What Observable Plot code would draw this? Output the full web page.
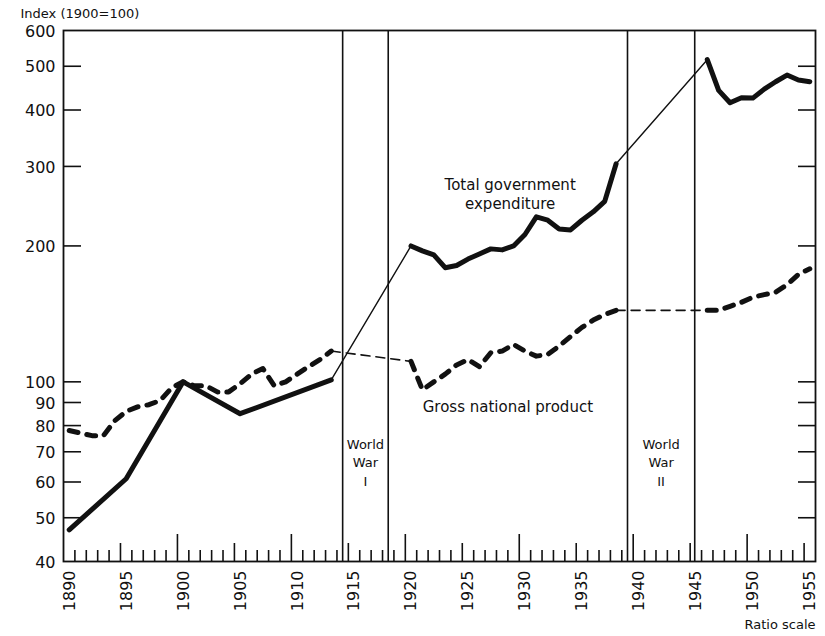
<!DOCTYPE html>
<html>
<head>
<meta charset="utf-8">
<script src="https://cdn.jsdelivr.net/npm/d3@7"></script>
<script src="https://cdn.jsdelivr.net/npm/@observablehq/plot@0.6"></script>
<style>
  html, body { margin: 0; padding: 0; background: #fff; }
</style>
</head>
<body>
<div id="chart"></div>
<script>
// ---- Data (index, 1900 = 100) ----
// Total government expenditure: three plotted periods
const govYearsA = [1890, 1895, 1900, 1905, 1913];
const govValuesA = [47, 61, 100, 85, 101];
const govYearsB = [1920, 1921, 1922, 1923, 1924, 1925, 1926, 1927, 1928, 1929,
                   1930, 1931, 1932, 1933, 1934, 1935, 1936, 1937, 1938];
const govValuesB = [200, 195, 191, 179, 181, 187, 192, 197, 196, 200,
                    212, 232, 228, 218, 217, 228, 238, 251, 304];
const govYearsC = [1946, 1947, 1948, 1949, 1950, 1951, 1952, 1953, 1954, 1955];
const govValuesC = [517, 442, 415, 426, 425, 445, 462, 478, 466, 462];

// Gross national product: three plotted periods
const gnpYearsA = [1890, 1891, 1892, 1893, 1894, 1895, 1896, 1897, 1898, 1899,
                   1900, 1901, 1902, 1903, 1904, 1905, 1906, 1907, 1908, 1909,
                   1910, 1911, 1912, 1913];
const gnpValuesA = [78, 77, 76, 76, 82, 86, 88, 89, 91, 97,
                    100, 98, 98, 95, 95, 99, 104, 107, 98, 100,
                    104, 108, 112, 117];
const gnpYearsB = [1920, 1921, 1922, 1923, 1924, 1925, 1926, 1927, 1928, 1929,
                   1930, 1931, 1932, 1933, 1934, 1935, 1936, 1937, 1938];
const gnpValuesB = [111, 96, 100, 104, 109, 112, 108, 116, 117, 121,
                    117, 114, 115, 120, 126, 132, 137, 141, 144];
const gnpYearsC = [1946, 1947, 1948, 1949, 1950, 1951, 1952, 1953, 1954, 1955];
const gnpValuesC = [144, 144, 147, 150, 154, 156, 158, 164, 173, 178];

// War periods (boundaries)
const warBounds = [1914.5, 1918.5, 1939.5, 1945.4];
const warLabels = ["World\nWar\nI", "World\nWar\nII"];

// Axis ticks and labels
const yTicks = [40, 50, 60, 70, 80, 90, 100, 200, 300, 400, 500, 600];
const xLabelYears = [1890, 1895, 1900, 1905, 1910, 1915, 1920, 1925, 1930, 1935, 1940, 1945, 1950, 1955];
const xTickYears = [1891,1892,1893,1894,1895,1896,1897,1898,1899,1900,1901,1902,1903,1904,1905,
  1906,1907,1908,1909,1910,1911,1912,1913,1914,1915,1916,1917,1918,1919,1920,1921,1922,1923,1924,1925,
  1926,1927,1928,1929,1930,1931,1932,1933,1934,1935,1936,1937,1938,1939,1940,1941,1942,1943,1944,1945,
  1946,1947,1948,1949,1950,1951,1952,1953,1954,1955];

const yAxisTitle = "Index (1900=100)";
const scaleNote = "Ratio scale";
const govLabel = "Total government\nexpenditure";
const gnpLabel = "Gross national product";

// ---- Layout ----
const W = 825, H = 636;
const mL = 63, mR = 10, mT = 30, mB = 75;
const xDomain = [1890, 1956];
const yDomain = [40, 600];
const plotW = W - mL - mR, plotH = H - mT - mB;
const pxPerYear = plotW / (xDomain[1] - xDomain[0]);
const yUp = px => yDomain[0] * Math.pow(yDomain[1] / yDomain[0], px / plotH);
const yearSpan = px => px / pxPerYear;

// ---- Build tables ----
const rows = (years, values, seg) => years.map((y, i) => ({year: y, value: values[i], seg}));
const govParts = [rows(govYearsA, govValuesA, "a"), rows(govYearsB, govValuesB, "b"), rows(govYearsC, govValuesC, "c")];
const gnpParts = [rows(gnpYearsA, gnpValuesA, "a"), rows(gnpYearsB, gnpValuesB, "b"), rows(gnpYearsC, gnpValuesC, "c")];
const bridges = parts => {
  const out = [];
  for (let k = 0; k + 1 < parts.length; k++) {
    const a = parts[k][parts[k].length - 1], b = parts[k + 1][0];
    out.push({...a, seg: "g" + k}, {...b, seg: "g" + k});
  }
  return out;
};
const govThick = govParts.flat();
const gnpThick = gnpParts.flat();
const govThin = bridges(govParts);
const gnpThin = bridges(gnpParts);
const mid = d => d.year + 0.5; // annual values plotted at mid-year

const tickLen = y => (y % 10 === 0 ? 27 : y % 5 === 0 ? 18 : 11);
const yInner = yTicks.filter(t => t > yDomain[0] && t < yDomain[1]);

const chart = Plot.plot({
  width: W,
  height: H,
  marginLeft: mL,
  marginRight: mR,
  marginTop: mT,
  marginBottom: mB,
  style: {fontFamily: "'DejaVu Sans', sans-serif", fontSize: "16px", color: "#111", background: "#fff"},
  x: {domain: xDomain, axis: null, label: null},
  y: {type: "log", domain: yDomain, axis: null, label: null},
  marks: [
    // war boundaries
    Plot.ruleX(warBounds, {stroke: "#111", strokeWidth: 1.6}),
    // inward ticks: bottom
    Plot.ruleX(xTickYears, {x: d => d, y1: yDomain[0], y2: d => yUp(tickLen(d)), stroke: "#111", strokeWidth: 1.6}),
    // inward ticks: left and right
    Plot.ruleY(yInner, {y: d => d, x1: xDomain[0], x2: xDomain[0] + yearSpan(18), stroke: "#111", strokeWidth: 1.6}),
    Plot.ruleY(yInner, {y: d => d, x1: xDomain[1] - yearSpan(17), x2: xDomain[1], stroke: "#111", strokeWidth: 1.6}),
    Plot.frame({stroke: "#111", strokeWidth: 1.8}),
    // labels of axes
    Plot.axisY(yTicks, {anchor: "left", tickSize: 0, tickPadding: 8, tickFormat: d => String(d), fontSize: 16, fill: "#111", dy: 1, letterSpacing: "0.6px"}),
    Plot.axisX(xLabelYears, {anchor: "bottom", tickSize: 0, tickRotate: -90, tickPadding: 9, tickFormat: d => String(d), fontSize: 16, fill: "#111", dx: 6, letterSpacing: "0.8px"}),
    // connecting (thin) segments across the wars
    Plot.line(govThin, {x: mid, y: "value", z: "seg", stroke: "#111", strokeWidth: 1.4}),
    Plot.line(gnpThin, {x: mid, y: "value", z: "seg", stroke: "#111", strokeWidth: 1.6, strokeDasharray: "9,6"}),
    // thick series
    Plot.line(gnpThick, {x: mid, y: "value", z: "seg", stroke: "#111", strokeWidth: 5, strokeLinecap: "round", strokeLinejoin: "round", strokeDasharray: "9,9"}),
    Plot.line(govThick, {x: mid, y: "value", z: "seg", stroke: "#111", strokeWidth: 5, strokeLinecap: "round", strokeLinejoin: "round"}),
    // annotations
    Plot.text([govLabel], {x: 1929.2, y: 261, fontSize: 15, textAnchor: "middle", lineHeight: 1.25, fill: "#111", letterSpacing: "0.6px"}),
    Plot.text([gnpLabel], {x: 1929.0, y: 88, fontSize: 15, textAnchor: "middle", fill: "#111", letterSpacing: "0.6px"}),
    Plot.text([warLabels[0]], {x: (warBounds[0] + warBounds[1]) / 2, y: 66.6, fontSize: 13, textAnchor: "middle", lineHeight: 1.4, fill: "#111"}),
    Plot.text([warLabels[1]], {x: (warBounds[2] + warBounds[3]) / 2, y: 66.6, fontSize: 13, textAnchor: "middle", lineHeight: 1.4, fill: "#111"}),
    Plot.text([yAxisTitle], {frameAnchor: "top-left", dx: -43, dy: -22, fontSize: 13, textAnchor: "start", fill: "#111", letterSpacing: "0.8px"}),
    Plot.text([scaleNote], {frameAnchor: "bottom-right", dx: 0, dy: 67, fontSize: 13, textAnchor: "end", fill: "#111", letterSpacing: "0.6px"})
  ]
});
document.getElementById("chart").appendChild(chart);
</script>
</body>
</html>
